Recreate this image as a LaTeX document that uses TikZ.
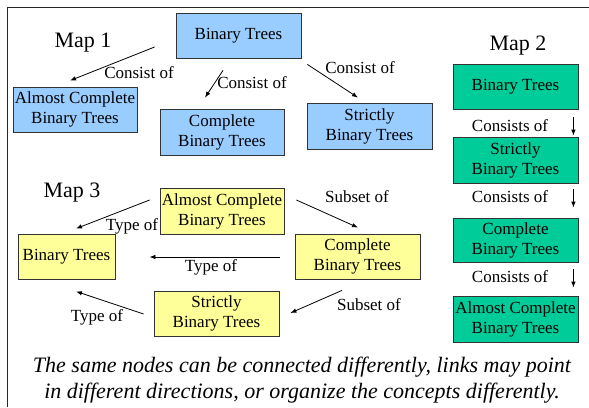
\documentclass[tikz,border=0pt]{standalone}
\usepackage{fontspec}
\setmainfont{Liberation Serif}
\usetikzlibrary{arrows.meta}
\definecolor{boxblue}{HTML}{99CCFF}
\definecolor{boxgreen}{HTML}{00CC99}
\definecolor{boxyellow}{HTML}{FFFF99}
\begin{document}
\begin{tikzpicture}[x=1pt,y=-1pt,
  box/.style={draw=black!80,line width=0.8pt,inner sep=0pt,align=center,
    font=\fontsize{17}{20}\selectfont},
  bluebox/.style={box,fill=boxblue},
  greenbox/.style={box,fill=boxgreen},
  yellowbox/.style={box,fill=boxyellow},
  lbl/.style={inner sep=0pt,font=\fontsize{17}{20}\selectfont,text height=11.5pt,text depth=0pt},
  title/.style={inner sep=0pt,font=\fontsize{22}{26}\selectfont,text height=15pt,text depth=0pt},
  arr/.style={draw=black,line width=0.8pt,-{Latex[length=6pt,width=4.5pt]}}]
\useasboundingbox (0,0) rectangle (589,407);
\draw[line width=1pt,black!85] (7,407) -- (7,7) -- (589,7);

% Map 1
\node[title] (t1) at (83,40) {Map 1};
\node[bluebox,minimum width=125pt,minimum height=45pt] (b1) at (238.5,35.5) {Binary Trees};
\node[bluebox,minimum width=124pt,minimum height=45pt] (alm1) at (75,109.5) {Almost Complete\\Binary Trees};
\node[bluebox,minimum width=124pt,minimum height=46pt] (com1) at (222,132) {Complete\\Binary Trees};
\node[bluebox,minimum width=125pt,minimum height=46pt] (str1) at (369.5,126) {Strictly\\Binary Trees};
\draw[arr] ([shift={(-21,11.5)}]b1.west) -- ([shift={(-5,-6)}]alm1.north);
\draw[arr] ([shift={(-15.5,12)}]b1.south) -- ([shift={(-17,-11)}]com1.north);
\draw[arr] ([shift={(6,6)}]b1.south east) -- ([shift={(-11.5,-5)}]str1.north);
\node[lbl] (l1a) at (139,73) {Consist of};
\node[lbl] (l1b) at (252,83) {Consist of};
\node[lbl] (l1c) at (360,68) {Consist of};

% Map 2
\node[title] (t2) at (518,43) {Map 2};
\node[greenbox,minimum width=125pt,minimum height=45pt] (g1) at (515.5,86.5) {Binary Trees};
\node[greenbox,minimum width=125pt,minimum height=46pt] (g2) at (515.5,160) {Strictly\\Binary Trees};
\node[greenbox,minimum width=125pt,minimum height=44pt] (g3) at (515.5,240) {Complete\\Binary Trees};
\node[greenbox,minimum width=125pt,minimum height=46pt] (g4) at (515.5,319) {Almost Complete\\Binary Trees};
\draw[arr] ([shift={(-5,8)}]g1.south east) -- ([shift={(-5,-1)}]g2.north east);
\draw[arr] ([shift={(-5,6)}]g2.south east) -- ([shift={(-5,-10)}]g3.north east);
\draw[arr] ([shift={(-5,7)}]g3.south east) -- ([shift={(-5,-8)}]g4.north east);
\node[lbl] (l2a) at (510,126) {Consists of};
\node[lbl] (l2b) at (510,197) {Consists of};
\node[lbl] (l2c) at (510,277) {Consists of};

% Map 3
\node[title] (t3) at (72,190) {Map 3};
\node[yellowbox,minimum width=124pt,minimum height=46pt] (a3) at (222,211) {Almost Complete\\Binary Trees};
\node[yellowbox,minimum width=97pt,minimum height=45pt] (bt3) at (66.5,256.5) {Binary Trees};
\node[yellowbox,minimum width=125pt,minimum height=45pt] (c3) at (357.5,256.5) {Complete\\Binary Trees};
\node[yellowbox,minimum width=125pt,minimum height=45pt] (s3) at (216.5,313.5) {Strictly\\Binary Trees};
\draw[arr] ([shift={(-10,-11)}]a3.west) -- ([shift={(9.5,-5)}]bt3.north);
\draw[arr] ([shift={(-15,0.5)}]c3.west) -- ([shift={(34,0.5)}]bt3.east);
\draw[arr] ([shift={(-10,0.5)}]s3.west) -- ([shift={(9.5,12)}]bt3.south);
\draw[arr] ([shift={(12,-11)}]a3.east) -- ([shift={(0.5,-6)}]c3.north);
\draw[arr] ([shift={(-15.5,11)}]c3.south) -- ([shift={(11,-0.5)}]s3.east);
\node[lbl] (l3a) at (132,225) {Type of};
\node[lbl] (l3b) at (211,266) {Type of};
\node[lbl] (l3c) at (97,316) {Type of};
\node[lbl] (l3d) at (357,197) {Subset of};
\node[lbl] (l3e) at (369,305) {Subset of};

% caption
\node[inner sep=0pt,align=center,font=\fontsize{22}{26.5}\selectfont\itshape] (cap) at (302,380)
  {The same nodes can be connected differently, links may point\\in different directions, or organize the concepts differently.};
\end{tikzpicture}
\end{document}
